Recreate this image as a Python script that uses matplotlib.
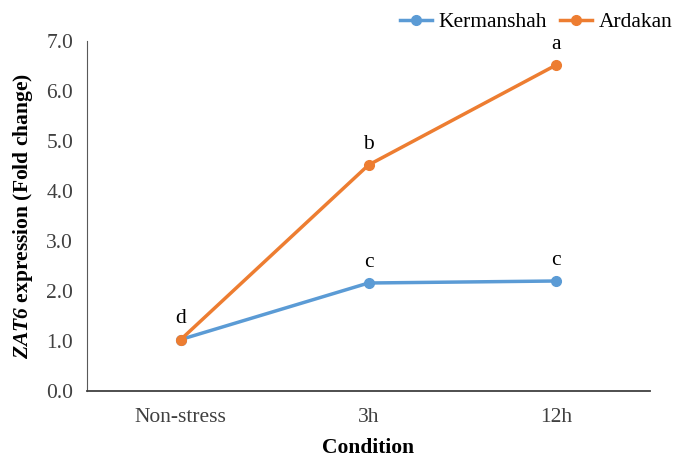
import matplotlib.pyplot as plt
import numpy as np

plt.rcParams['font.family'] = ['Liberation Serif', 'DejaVu Serif']
plt.rcParams['mathtext.fontset'] = 'custom'
plt.rcParams['mathtext.bfit'] = 'Liberation Serif:bold:italic'
plt.rcParams['mathtext.it'] = 'Liberation Serif:italic'
plt.rcParams['mathtext.bf'] = 'Liberation Serif:bold'

conditions = ['Non-stress', '3h', '12h']
kermanshah = [1.03, 2.16, 2.20]
ardakan = [1.03, 4.52, 6.52]
kerm_letters = ['', 'c', 'c']
ard_letters = ['d', 'b', 'a']

fs = 15.5
fig = plt.figure(figsize=(6.75, 4.59), dpi=100)
ax = fig.add_axes([87 / 675, 68 / 459, 563 / 675, 350 / 459])

x = np.arange(len(conditions))
ax.plot(x, kermanshah, '-o', color='#5B9BD5', lw=2.5, ms=7, label='Kermanshah')
ax.plot(x, ardakan, '-o', color='#ED7D31', lw=2.5, ms=7, label='Ardakan')

for i in range(len(conditions)):
    if kerm_letters[i]:
        ax.annotate(kerm_letters[i], (x[i], kermanshah[i]), xytext=(0, 8),
                    textcoords='offset points', ha='center', va='bottom', fontsize=fs)
    if ard_letters[i]:
        ax.annotate(ard_letters[i], (x[i], ardakan[i]), xytext=(0, 8),
                    textcoords='offset points', ha='center', va='bottom', fontsize=fs)

ax.set_xlim(-0.5, 2.5)
ax.set_ylim(0, 7)
ax.set_xticks(x)
ax.set_xticklabels(conditions)
ax.set_yticks(np.arange(0, 7.1, 1.0))
ax.set_yticklabels([f'{v:.1f}' for v in np.arange(0, 7.1, 1.0)])
ax.tick_params(length=0, labelsize=fs, pad=10, colors='#404040')
ax.tick_params(axis='x', pad=12)
for s in ['top', 'right']:
    ax.spines[s].set_visible(False)
ax.spines['left'].set_color('#595959')
ax.spines['bottom'].set_color('#404040')
ax.spines['bottom'].set_linewidth(1.3)

ax.set_xlabel('Condition', fontsize=fs, fontweight='bold', labelpad=8)
ax.set_ylabel(r'$\bfit{ZAT6}$' + ' expression (Fold change)', fontsize=fs,
              fontweight='bold', labelpad=8)

ax.legend(loc='lower right', bbox_to_anchor=(1.055, 1.0), ncol=2, frameon=False,
          fontsize=fs, handlelength=1.5, columnspacing=0.6, handletextpad=0.3,
          borderaxespad=0.0)

fig.savefig('out.png', dpi=100)
